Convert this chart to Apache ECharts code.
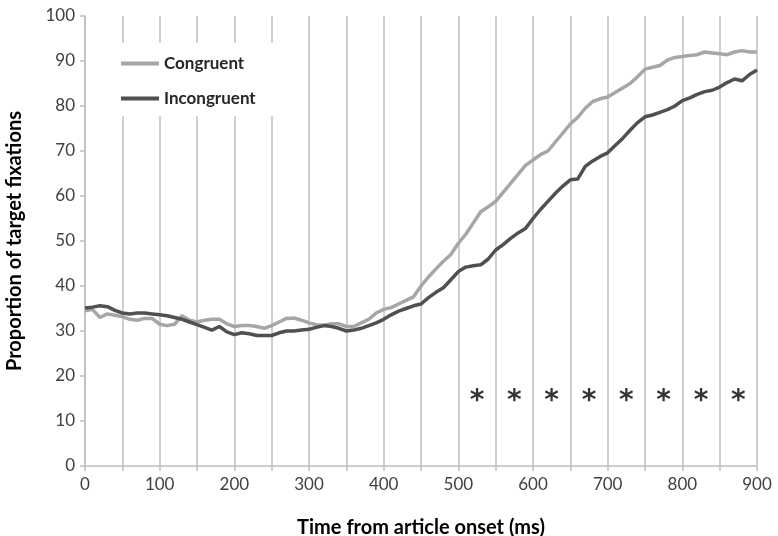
<!DOCTYPE html>
<html>
<head>
<meta charset="utf-8">
<title>Target fixations</title>
<script src="https://cdn.jsdelivr.net/npm/echarts@6/dist/echarts.min.js"></script>
<style>
  html, body { margin: 0; padding: 0; background: #fff; }
  #main { width: 778px; height: 536px; }
</style>
</head>
<body>
<div id="main"></div>
<script>
// time points, every 10 ms
var times = [];
for (var t = 0; t <= 900; t += 10) times.push(t);

var congruent = [
  34.5, 34.8, 33.0, 33.8, 33.5, 33.2, 32.6, 32.4, 32.8, 32.8,
  31.5, 31.2, 31.5, 33.4, 32.4, 32.0, 32.4, 32.6, 32.6, 31.6,
  31.0, 31.2, 31.2, 31.0, 30.6, 31.2, 32.0, 32.8, 32.9, 32.4,
  31.8, 31.4, 31.3, 31.6, 31.6, 31.0, 31.0, 31.8, 32.6, 34.0,
  34.8, 35.2, 36.0, 36.8, 37.6, 40.0, 42.0, 43.8, 45.5, 47.0,
  49.5, 51.5, 54.0, 56.5, 57.6, 58.8, 60.8, 62.8, 64.8, 66.8,
  68.0, 69.2, 70.0, 72.0, 74.0, 76.0, 77.5, 79.5, 81.0, 81.6,
  82.0, 83.0, 84.0, 85.0, 86.5, 88.2, 88.6, 89.0, 90.2, 90.8,
  91.0, 91.2, 91.4, 92.0, 91.8, 91.6, 91.4, 92.0, 92.3, 92.0,
  92.0
];

var incongruent = [
  35.1, 35.3, 35.6, 35.4, 34.6, 34.0, 33.8, 34.0, 34.0, 33.8,
  33.6, 33.4, 33.0, 32.6, 32.0, 31.4, 30.8, 30.2, 31.0, 29.8,
  29.2, 29.6, 29.4, 29.0, 29.0, 29.0, 29.6, 30.0, 30.0, 30.2,
  30.4, 30.8, 31.2, 31.0, 30.6, 30.0, 30.2, 30.6, 31.2, 31.8,
  32.6, 33.6, 34.4, 35.0, 35.6, 36.0, 37.4, 38.6, 39.6, 41.4,
  43.2, 44.2, 44.5, 44.7, 46.0, 48.0, 49.2, 50.6, 51.8, 52.8,
  55.0, 57.0, 58.8, 60.6, 62.2, 63.6, 63.8, 66.6, 67.8, 68.8,
  69.6, 71.2, 72.8, 74.6, 76.3, 77.6, 78.0, 78.6, 79.2, 80.0,
  81.2, 81.8, 82.6, 83.2, 83.5, 84.2, 85.2, 86.0, 85.6, 87.0,
  88.0
];

// significance markers
var starTimes = [525, 575, 625, 675, 725, 775, 825, 875];
var starLevel = 15;

function pairs(xs, ys) {
  return xs.map(function (x, i) { return [x, ys[i]]; });
}

var font = 'Lato, "Open Sans", sans-serif';
var chart = echarts.init(document.getElementById('main'));

chart.setOption({
  animation: false,
  grid: { left: 85, right: 21, top: 16, bottom: 70, outerBoundsMode: 'none' },
  legend: {
    orient: 'vertical',
    left: 100,
    top: 43,
    padding: [12, 40, 9, 21],
    backgroundColor: '#fff',
    icon: 'rect',
    itemWidth: 38,
    itemHeight: 4,
    itemGap: 18,
    textStyle: { fontFamily: font, fontWeight: 'bold', fontSize: 17, color: '#262626' },
    data: ['Congruent', 'Incongruent']
  },
  xAxis: {
    type: 'value',
    min: 0, max: 900, interval: 50,
    name: 'Time from article onset (ms)',
    nameLocation: 'middle',
    nameGap: 52,
    nameTextStyle: { fontFamily: font, fontWeight: 'bold', fontSize: 20, color: '#000' },
    axisLine: { lineStyle: { color: '#BFBFBF', width: 1.5 } },
    axisTick: { show: true, length: 5, lineStyle: { color: '#BFBFBF', width: 1.5 } },
    axisLabel: {
      fontFamily: font, fontSize: 17, color: '#404040', margin: 10,
      formatter: function (v) { return v % 100 === 0 ? String(v) : ''; }
    },
    splitLine: { show: true, lineStyle: { color: '#BFBFBF', width: 1.5 } }
  },
  yAxis: {
    type: 'value',
    min: 0, max: 100, interval: 10,
    name: 'Proportion of target fixations',
    nameLocation: 'middle',
    nameGap: 60,
    nameTextStyle: { fontFamily: font, fontWeight: 'bold', fontSize: 20, color: '#000' },
    axisLine: { show: true, lineStyle: { color: '#BFBFBF', width: 1.5 } },
    axisTick: { show: true, length: 5, lineStyle: { color: '#BFBFBF', width: 1.5 } },
    axisLabel: { fontFamily: font, fontSize: 17, color: '#404040', margin: 10 },
    splitLine: { show: false }
  },
  series: [
    {
      name: 'Congruent',
      type: 'line',
      showSymbol: false,
      symbol: 'none',
      color: '#A6A6A6',
      lineStyle: { width: 3.5, color: '#A6A6A6' },
      data: pairs(times, congruent)
    },
    {
      name: 'Incongruent',
      type: 'line',
      showSymbol: false,
      symbol: 'none',
      color: '#505050',
      lineStyle: { width: 3.5, color: '#505050' },
      data: pairs(times, incongruent)
    },
    {
      name: 'sig',
      type: 'scatter',
      symbolSize: 0,
      silent: true,
      label: {
        show: true,
        position: 'inside',
        formatter: '*',
        offset: [0, 3],
        fontFamily: '"DejaVu Sans", sans-serif',
        fontWeight: 'bold',
        fontSize: 28,
        color: '#000'
      },
      data: starTimes.map(function (x) { return [x, starLevel]; })
    }
  ]
});
</script>
</body>
</html>
